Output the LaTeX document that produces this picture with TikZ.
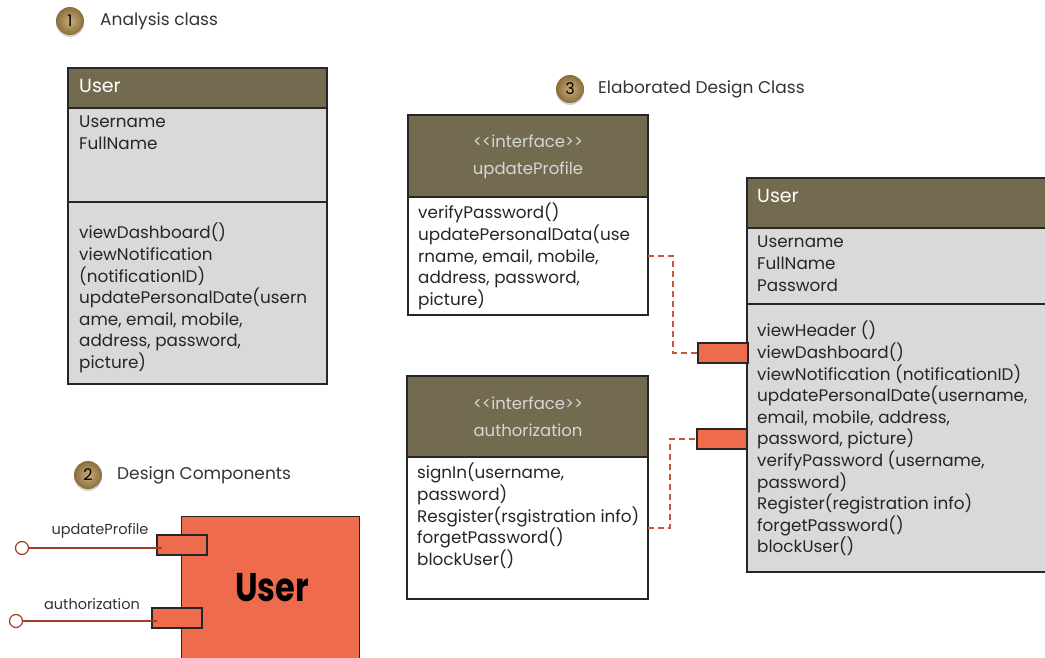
\documentclass[tikz,border=0pt]{standalone}
\usepackage{fontspec}
\setmainfont{Poppins}
\usetikzlibrary{positioning, shadows, calc}
\definecolor{headbrown}{HTML}{736B50}
\definecolor{bodygray}{HTML}{D9D9D9}
\definecolor{compred}{HTML}{EE6C4D}
\definecolor{portline}{HTML}{A33B26}
\definecolor{dashred}{HTML}{C9553B}
\definecolor{badgein}{HTML}{C9AD7A}
\definecolor{badgeout}{HTML}{8A6D3C}
\definecolor{paletext}{HTML}{D6D6D6}
\newcommand{\stereo}[1]{<\kern0pt<#1>\kern0pt>}

\begin{document}
\begin{tikzpicture}[x=1pt, y=-1pt,
    cell/.style={rectangle, draw=black!85, line width=1.3pt, anchor=north west,
                 inner sep=0pt, outer sep=0pt},
    head/.style={cell, fill=headbrown},
    attr/.style={cell, fill=bodygray},
    plain/.style={cell, fill=white},
    txt/.style={inner sep=0pt, align=left, text=black!85,
                font=\fontsize{16.8}{21.6}\selectfont},
    headtxt/.style={inner sep=0pt, text=white, font=\fontsize{19}{23}\selectfont},
    ifacetxt/.style={inner sep=0pt, align=center, text=paletext,
                     font=\fontsize{16.5}{27}\selectfont},
    badge/.style={circle, minimum size=28pt, inner sep=0pt, inner color=badgein,
                  outer color=badgeout, drop shadow={opacity=0.35, shadow xshift=0pt, shadow yshift=-2pt},
                  font=\fontsize{16}{16}\selectfont},
    title/.style={inner sep=0pt, anchor=west, text=black!80, font=\fontsize{17}{20}\selectfont},
    port/.style={rectangle, draw=black!85, line width=1.1pt, fill=compred, inner sep=0pt,
                 outer sep=0pt, anchor=north west, minimum width=50pt, minimum height=20pt},
    lollipop/.style={circle, draw=portline, line width=1.2pt, fill=white, minimum size=13pt, inner sep=0pt},
    portlink/.style={portline, line width=1.2pt},
    portlabel/.style={inner sep=0pt, text=black!80, font=\fontsize{14.5}{16}\selectfont},
    dashlink/.style={dashred, line width=1.5pt, dash pattern=on 6pt off 4pt}
  ]
  \useasboundingbox (0,0) rectangle (1045,658);

  % 1 analysis class
  \node[badge] (b1) at (70,21) {1};
  \node[title] (t1) at (100,21) {Analysis class};
  \node[head, minimum width=259pt, minimum height=40pt] (ahead) at (68,68) {};
  \node[attr, minimum width=259pt, minimum height=94pt] (aattr) at (68,108) {};
  \node[attr, minimum width=259pt, minimum height=182pt] (aops) at (68,202) {};
  \node[headtxt, anchor=west] (aname) at (79,86) {User};
  \node[txt, below right=8pt and 11pt of aattr.north west] (aattrtxt) {Username\\FullName};
  \node[txt, below right=21pt and 11pt of aops.north west] (aopstxt)
    {viewDashboard()\\viewNotification\\(notificationID)\\updatePersonalDate(usern\\ame, email, mobile,\\address, password,\\picture)};

  % 2 design components
  \node[badge] (b2) at (88,475) {2};
  \node[title] (t2) at (117,475) {Design Components};
  \node[rectangle, draw=black!85, line width=1.3pt, fill=compred, anchor=north west,
        minimum width=178pt, minimum height=142pt, inner sep=0pt] (comp) at (181,516) {};
  \node[font=\fontsize{40}{40}\selectfont\bfseries, text=black] (compname) at (272,588)
    {\scalebox{0.8}[1]{User}};
  \node[port] (cport1) at (157,535) {};
  \node[port] (cport2) at (152,608) {};
  \node[lollipop] (lol1) at (22,548) {};
  \node[lollipop] (lol2) at (16,621) {};
  \draw[portlink] (lol1) -- ($(lol1 -| cport1.west)+(5,0)$);
  \draw[portlink] (lol2) -- ($(lol2 -| cport2.west)+(5,0)$);
  \node[portlabel] (l1) at (100,531) {updateProfile};
  \node[portlabel] (l2) at (92,604) {authorization};

  % 3 elaborated design class
  \node[badge] (b3) at (570,89) {3};
  \node[title] (t3) at (598,89) {Elaborated Design Class};

  \node[head, minimum width=240pt, minimum height=82pt] (uphead) at (408,115) {};
  \node[plain, minimum width=240pt, minimum height=118pt] (upbody) at (408,197) {};
  \node[ifacetxt] (upname) at (528,156.5) {\stereo{interface}\\updateProfile};
  \node[txt, below right=6pt and 10pt of upbody.north west] (upops)
    {verifyPassword()\\updatePersonalData(use\\rname, email, mobile,\\address, password,\\picture)};

  \node[head, minimum width=241pt, minimum height=81pt] (authhead) at (407,376) {};
  \node[plain, minimum width=241pt, minimum height=142pt] (authbody) at (407,457) {};
  \node[ifacetxt] (authname) at (528,417) {\stereo{interface}\\authorization};
  \node[txt, below right=6pt and 10pt of authbody.north west] (authops)
    {signIn(username,\\password)\\Resgister(rsgistration info)\\forgetPassword()\\blockUser()};

  \node[head, minimum width=310pt, minimum height=50pt] (ehead) at (747,178) {};
  \node[attr, minimum width=310pt, minimum height=76pt] (eattr) at (747,228) {};
  \node[attr, minimum width=310pt, minimum height=268pt] (eops) at (747,304) {};
  \node[headtxt, anchor=west] (ename) at (757,196) {User};
  \node[txt, below right=8pt and 10pt of eattr.north west] (eattrtxt) {Username\\FullName\\Password};
  \node[txt, below right=17pt and 10pt of eops.north west] (eopstxt)
    {viewHeader ()\\viewDashboard()\\viewNotification (notificationID)\\updatePersonalDate(username,\\email, mobile, address,\\password, picture)\\verifyPassword (username,\\password)\\Register(registration info)\\forgetPassword()\\blockUser()};

  \node[port] (eport1) at (698,343) {};
  \node[port] (eport2) at (697,429) {};
  \draw[dashlink] (upbody.east) -- ++(25,0) |- (eport1.west);
  \draw[dashlink] (authbody.east) -- ++(22,0) |- (eport2.west);
\end{tikzpicture}
\end{document}
